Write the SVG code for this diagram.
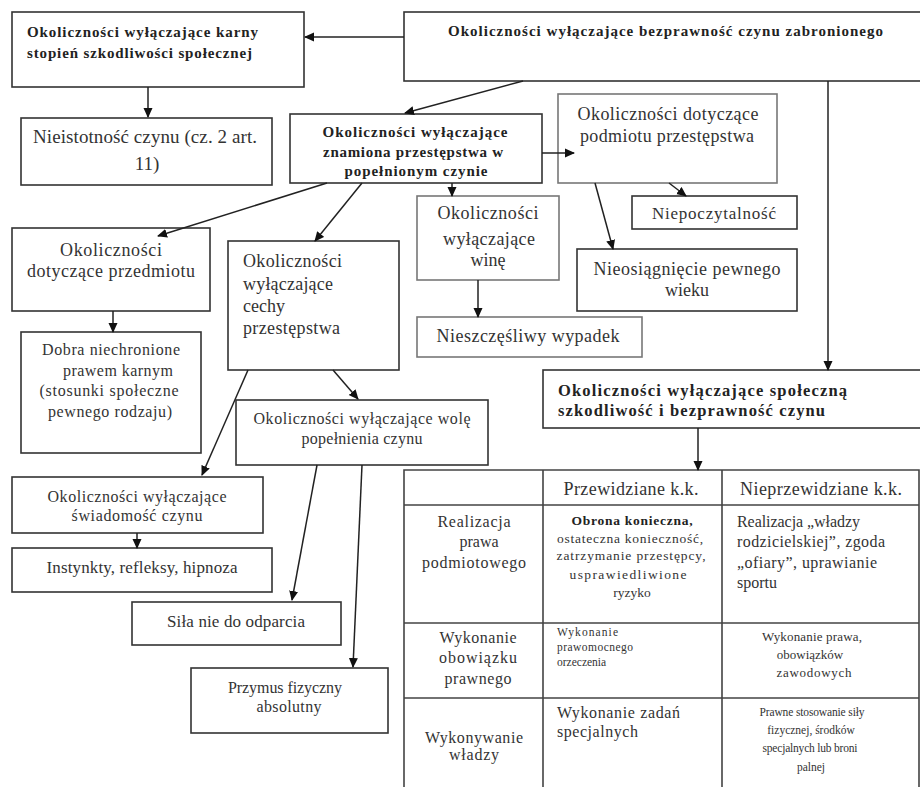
<svg xmlns="http://www.w3.org/2000/svg" width="920" height="787" viewBox="0 0 920 787">
<style>
.bx{fill:#fff;stroke:#333;stroke-width:1.6}
.bl{fill:#fff;stroke:#777;stroke-width:1.6}
.t{font-family:"Liberation Serif","Times New Roman",serif;fill:#333;font-size:17px}
.b{font-family:"Liberation Serif","Times New Roman",serif;fill:#222;font-size:15px;font-weight:bold}
.c{text-anchor:middle}
.s13{font-size:16px}
.s12{font-size:13px}
.s11{font-size:13.5px}
.s10{font-size:11.5px}
.s16{font-size:18px}
.s17{font-size:19px}
.cn line{stroke:#222;stroke-width:1.5;marker-end:url(#ah)}
.tl{stroke:#444;stroke-width:1.6;fill:none}
</style>
<defs>
<marker id="ah" markerUnits="userSpaceOnUse" markerWidth="10" markerHeight="10" viewBox="0 0 10 10" refX="9" refY="5" orient="auto">
<path d="M0,0.5 L10,5 L0,9.5 z" fill="#111"/>
</marker>
</defs>
<rect width="920" height="787" fill="#fff"/>

<g id="nodeA">
<rect class="bx" x="12" y="12" width="292" height="75"/>
<text class="b" x="27" y="37" textLength="231" lengthAdjust="spacing">Okoliczności wyłączające karny</text>
<text class="b" x="27" y="58" textLength="225" lengthAdjust="spacing">stopień szkodliwości społecznej</text>
</g>
<g id="nodeB">
<rect class="bx" x="404" y="12" width="520" height="69"/>
<text class="b" x="448" y="36" textLength="435" lengthAdjust="spacing">Okoliczności wyłączające bezprawność czynu zabronionego</text>
</g>
<g id="nodeC">
<rect class="bx" x="21" y="118" width="251" height="67"/>
<text class="t s17" x="33" y="143" textLength="224" lengthAdjust="spacing">Nieistotność czynu (cz. 2 art.</text>
<text class="t s17 c" x="147" y="170">11)</text>
</g>
<g id="nodeD">
<rect class="bx" x="290" y="114" width="252" height="69"/>
<text class="b c" x="415" y="137" textLength="185" lengthAdjust="spacing">Okoliczności wyłączające</text>
<text class="b c" x="413" y="157" textLength="180" lengthAdjust="spacing">znamiona przestępstwa w</text>
<text class="b c" x="416" y="176" textLength="143" lengthAdjust="spacing">popełnionym czynie</text>
</g>
<g id="nodeE">
<rect class="bl" x="558" y="94" width="219" height="89"/>
<text class="t s16 c" x="668" y="120" textLength="181" lengthAdjust="spacing">Okoliczności dotyczące</text>
<text class="t s16 c" x="667" y="142" textLength="174" lengthAdjust="spacing">podmiotu przestępstwa</text>
</g>
<g id="nodeF">
<rect class="bx" x="632" y="196" width="165" height="33"/>
<text class="t c" x="714" y="219" textLength="124" lengthAdjust="spacing">Niepoczytalność</text>
</g>
<g id="nodeG">
<rect class="bx" x="577" y="249" width="220" height="62"/>
<text class="t s16 c" x="687" y="275" textLength="187" lengthAdjust="spacing">Nieosiągnięcie pewnego</text>
<text class="t s16 c" x="687" y="296">wieku</text>
</g>
<g id="nodeH">
<rect class="bl" x="417" y="196" width="142" height="84"/>
<text class="t s16 c" x="488" y="219" textLength="101" lengthAdjust="spacing">Okoliczności</text>
<text class="t s16 c" x="489" y="245" textLength="92" lengthAdjust="spacing">wyłączające</text>
<text class="t s16 c" x="488" y="266">winę</text>
</g>
<g id="nodeI">
<rect class="bl" x="417" y="317" width="225" height="40"/>
<text class="t s16 c" x="528" y="342" textLength="183" lengthAdjust="spacing">Nieszczęśliwy wypadek</text>
</g>
<g id="nodeJ">
<rect class="bx" x="543" y="370" width="380" height="58"/>
<text class="b" x="558" y="396" style="font-size:16.5px" textLength="289" lengthAdjust="spacing">Okoliczności wyłączające społeczną</text>
<text class="b" x="558" y="416" style="font-size:16.5px" textLength="267" lengthAdjust="spacing">szkodliwość i bezprawność czynu</text>
</g>
<g id="nodeK">
<rect class="bx" x="12" y="228" width="198" height="83"/>
<text class="t s16 c" x="111" y="256" textLength="102" lengthAdjust="spacing">Okoliczności</text>
<text class="t s16 c" x="111" y="277" textLength="168" lengthAdjust="spacing">dotyczące przedmiotu</text>
</g>
<g id="nodeL">
<rect class="bx" x="228" y="241" width="171" height="129"/>
<text class="t s16" x="243" y="267" textLength="99" lengthAdjust="spacing">Okoliczności</text>
<text class="t s16" x="243" y="290" textLength="90" lengthAdjust="spacing">wyłączające</text>
<text class="t s16" x="243" y="312">cechy</text>
<text class="t s16" x="243" y="334" textLength="97" lengthAdjust="spacing">przestępstwa</text>
</g>
<g id="nodeM">
<rect class="bx" x="21" y="332" width="180" height="121"/>
<text class="t s13 c" x="111" y="355" textLength="138" lengthAdjust="spacing">Dobra niechronione</text>
<text class="t s13 c" x="118" y="376" textLength="110" lengthAdjust="spacing">prawem karnym</text>
<text class="t s13 c" x="109" y="396" textLength="139" lengthAdjust="spacing">(stosunki społeczne</text>
<text class="t s13 c" x="110" y="417" textLength="124" lengthAdjust="spacing">pewnego rodzaju)</text>
</g>
<g id="nodeN">
<rect class="bx" x="236" y="400" width="252" height="65"/>
<text class="t s13 c" x="362" y="424" textLength="217" lengthAdjust="spacing">Okoliczności wyłączające wolę</text>
<text class="t s13 c" x="362" y="444" textLength="121" lengthAdjust="spacing">popełnienia czynu</text>
</g>
<g id="nodeO">
<rect class="bx" x="12" y="477" width="251" height="56"/>
<text class="t s13 c" x="137" y="502" textLength="179" lengthAdjust="spacing">Okoliczności wyłączające</text>
<text class="t s13 c" x="137" y="521" textLength="131" lengthAdjust="spacing">świadomość czynu</text>
</g>
<g id="nodeP">
<rect class="bx" x="12" y="548" width="260" height="44"/>
<text class="t c" x="142" y="573" textLength="191" lengthAdjust="spacing">Instynkty, refleksy, hipnoza</text>
</g>
<g id="nodeQ">
<rect class="bx" x="132" y="602" width="209" height="43"/>
<text class="t c" x="236" y="627" textLength="138" lengthAdjust="spacing">Siła nie do odparcia</text>
</g>
<g id="nodeR">
<rect class="bx" x="191" y="668" width="197" height="65"/>
<text class="t s13 c" x="285" y="693" textLength="114" lengthAdjust="spacing">Przymus fizyczny</text>
<text class="t s13 c" x="289" y="712" textLength="65" lengthAdjust="spacing">absolutny</text>
</g>

<g id="table">
<path class="tl" d="M404,787 V470 H919 V787 M543,470 V787 M722,470 V787 M404,505 H919 M404,623 H919 M404,698 H919"/>
<text class="t s16 c" x="631" y="495" textLength="135" lengthAdjust="spacing">Przewidziane k.k.</text>
<text class="t s16 c" x="821" y="495" textLength="162" lengthAdjust="spacing">Nieprzewidziane k.k.</text>
<text class="t s13 c" x="474" y="527" textLength="73" lengthAdjust="spacing">Realizacja</text>
<text class="t s13 c" x="479" y="547">prawa</text>
<text class="t s13 c" x="474" y="568" textLength="104" lengthAdjust="spacing">podmiotowego</text>
<text class="b s11 c" x="632" y="525" textLength="121" lengthAdjust="spacing">Obrona konieczna,</text>
<text class="t s11 c" x="630" y="543" textLength="146" lengthAdjust="spacing">ostateczna konieczność,</text>
<text class="t s11 c" x="631" y="560" textLength="149" lengthAdjust="spacing">zatrzymanie przestępcy,</text>
<text class="t s11 c" x="628" y="579" textLength="117" lengthAdjust="spacing">usprawiedliwione</text>
<text class="t s11 c" x="632" y="597">ryzyko</text>
<text class="t s13" x="737" y="527" textLength="123" lengthAdjust="spacing">Realizacja „władzy</text>
<text class="t s13" x="737" y="547" textLength="148" lengthAdjust="spacing">rodzicielskiej”, zgoda</text>
<text class="t s13" x="737" y="568" textLength="140" lengthAdjust="spacing">„ofiary”, uprawianie</text>
<text class="t s13" x="737" y="588">sportu</text>
<text class="t s13 c" x="478" y="643" textLength="77" lengthAdjust="spacing">Wykonanie</text>
<text class="t s13 c" x="478" y="663" textLength="78" lengthAdjust="spacing">obowiązku</text>
<text class="t s13 c" x="478" y="684" textLength="67" lengthAdjust="spacing">prawnego</text>
<text class="t s10" x="557" y="636" textLength="61" lengthAdjust="spacing">Wykonanie</text>
<text class="t s10" x="557" y="651" textLength="76" lengthAdjust="spacing">prawomocnego</text>
<text class="t s10" x="557" y="666">orzeczenia</text>
<text class="t s12 c" x="812" y="641" textLength="100" lengthAdjust="spacing">Wykonanie prawa,</text>
<text class="t s12 c" x="810" y="659">obowiązków</text>
<text class="t s12 c" x="814" y="677" textLength="75" lengthAdjust="spacing">zawodowych</text>
<text class="t s13 c" x="474" y="743" textLength="98" lengthAdjust="spacing">Wykonywanie</text>
<text class="t s13 c" x="474" y="760" textLength="50" lengthAdjust="spacing">władzy</text>
<text class="t" x="557" y="718" style="font-size:16px" textLength="123" lengthAdjust="spacing">Wykonanie zadań</text>
<text class="t" x="557" y="737" style="font-size:16px" textLength="81" lengthAdjust="spacing">specjalnych</text>
<text class="t s10 c" x="812" y="716" textLength="105" lengthAdjust="spacing">Prawne stosowanie siły</text>
<text class="t s10 c" x="811" y="734">fizycznej, środków</text>
<text class="t s10 c" x="810" y="752" textLength="95" lengthAdjust="spacing">specjalnych lub broni</text>
<text class="t s10 c" x="811" y="771">palnej</text>
</g>

<g id="connectors" class="cn">
<line x1="404" y1="37" x2="305" y2="37"/>
<line x1="148" y1="87" x2="148" y2="117"/>
<line x1="523" y1="81" x2="405" y2="113"/>
<line x1="542" y1="153" x2="574" y2="153"/>
<line x1="669" y1="183" x2="686" y2="196"/>
<line x1="595" y1="183" x2="613" y2="249"/>
<line x1="452" y1="183" x2="452" y2="196"/>
<line x1="478" y1="280" x2="478" y2="317"/>
<line x1="828" y1="81" x2="828" y2="370"/>
<line x1="698" y1="428" x2="698" y2="470"/>
<line x1="327" y1="183" x2="158" y2="236"/>
<line x1="362" y1="183" x2="315" y2="241"/>
<line x1="113" y1="311" x2="113" y2="332"/>
<line x1="333" y1="370" x2="358" y2="399"/>
<line x1="248" y1="370" x2="202" y2="475"/>
<line x1="137" y1="533" x2="137" y2="548"/>
<line x1="317" y1="465" x2="292" y2="600"/>
<line x1="362" y1="465" x2="353" y2="667"/>
</g>
</svg>
